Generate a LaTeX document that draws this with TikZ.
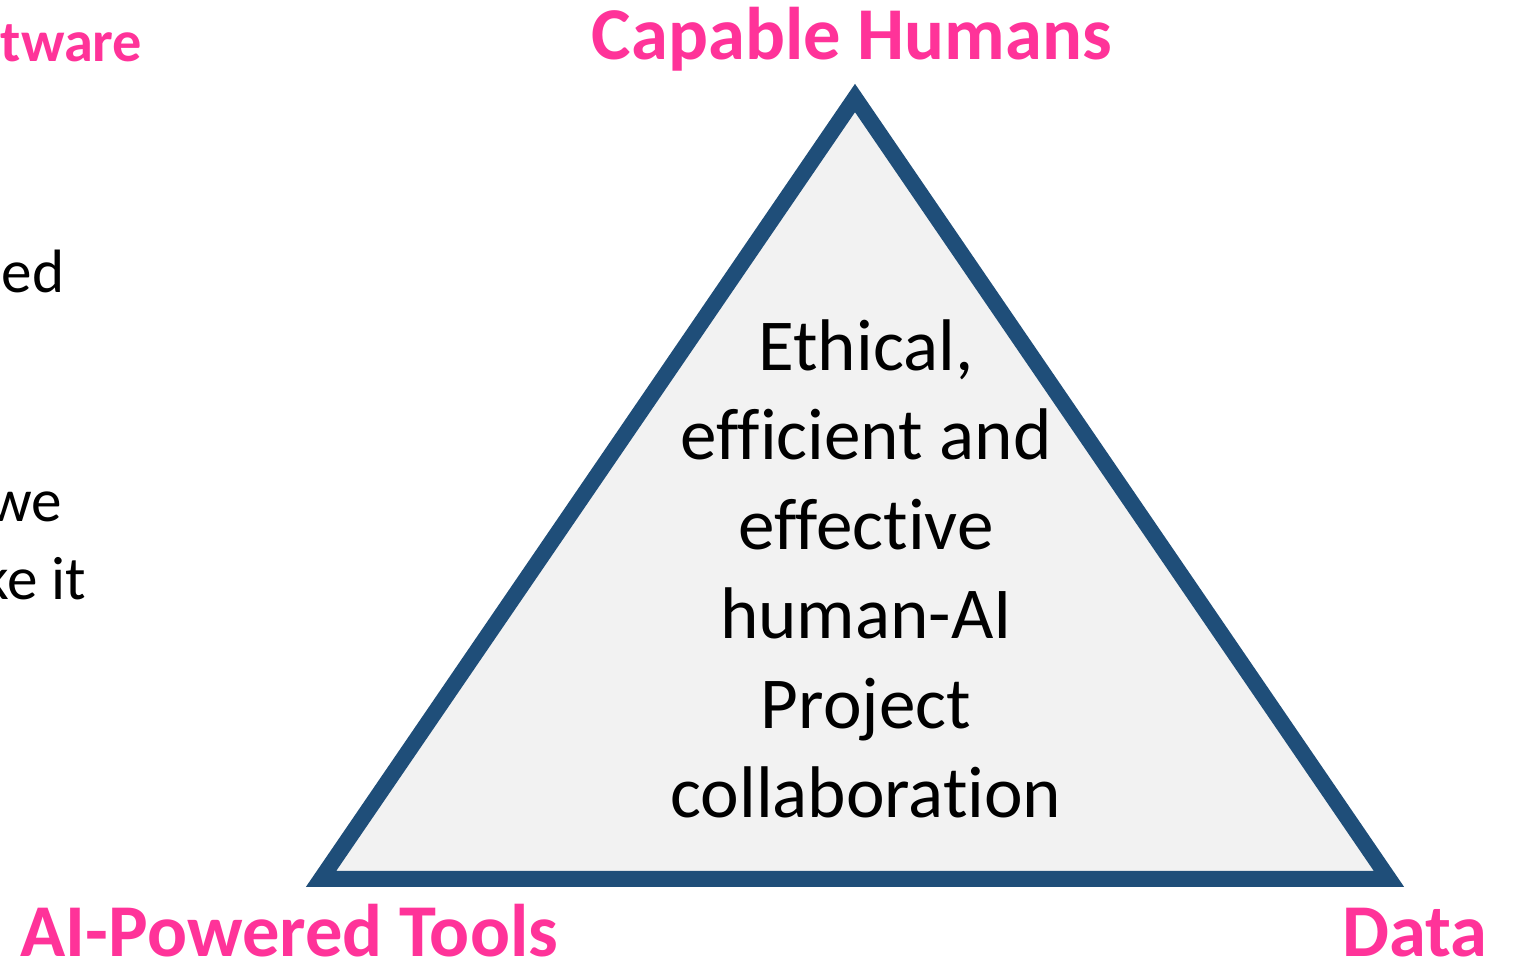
\documentclass[tikz,border=0pt]{standalone}
\usepackage{fontspec}
\setmainfont{Carlito}[Ligatures=NoCommon]
\usetikzlibrary{positioning}
\definecolor{labelpink}{RGB}{255,51,153}
\definecolor{edgeblue}{RGB}{31,78,121}
\definecolor{fillgray}{RGB}{242,242,242}
\tikzset{
    corner/.style={
        text=labelpink,
        inner sep=0pt,
        font={\fontsize{21.2pt}{26pt}\bfseries\selectfont}
    },
    sidehead/.style={
        corner,
        font={\fontsize{16.6pt}{20pt}\bfseries\selectfont}
    },
    sidetext/.style={
        inner sep=0pt,
        font={\fontsize{17.4pt}{22pt}\selectfont}
    },
    goaltext/.style={
        align=center,
        inner sep=0pt,
        font={\fontsize{20.8pt}{25.46pt}\selectfont}
    },
    frame/.style={draw=edgeblue, line width=4.55pt, fill=fillgray},
}

\begin{document}
\begin{tikzpicture}[x=0.01cm, y=-0.01cm]
    \useasboundingbox (0,0) rectangle (1514,961);

    % the triangle
    \coordinate (top) at (855,98);
    \coordinate (left) at (321,879);
    \coordinate (right) at (1389,879);
    \draw[frame] (top) -- (left) -- (right) -- cycle;

    \node(humans)[corner, anchor=base] at (852,60) {Capable Humans};
    \node(tools)[corner, anchor=base west] at (20,957) {AI-Powered Tools};
    \node(data)[corner, anchor=base east] at (1488,957) {Data};
    \node(goal)[goaltext, anchor=base] at (866,818)
        {Ethical,\\efficient and\\effective\\human-AI\\Project\\collaboration};

    % cut-off text on the left
    \node(soft)[sidehead, anchor=base east] at (143,62) {tware};
    \node(side1)[sidetext, anchor=base east] at (65,293) {ed};
    \node(side2)[sidetext, anchor=base east] at (63,522) {we};
    \node(side3)[sidetext, anchor=base east] at (87,600) {ke it};
\end{tikzpicture}
\end{document}
